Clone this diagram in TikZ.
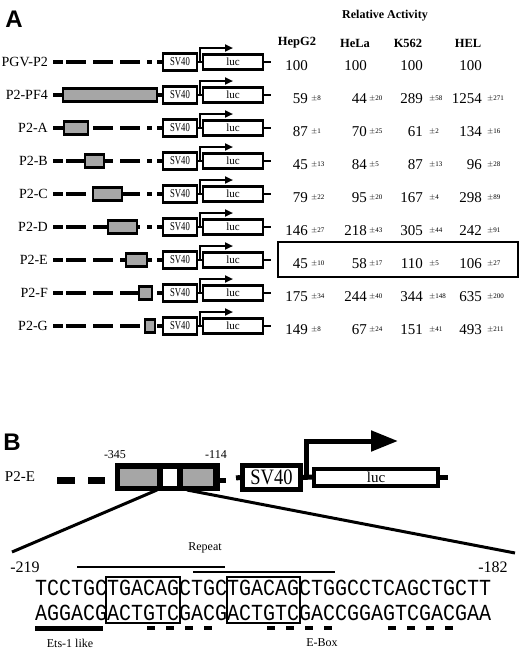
\documentclass[tikz,border=0pt]{standalone}
\usepackage{graphicx}
\usepackage{fontspec}
\setmainfont{Liberation Serif}
\newfontfamily\monofont{Liberation Mono}
\newfontfamily\sansfont{Liberation Sans}
\usetikzlibrary{arrows.meta}

\begin{document}
\begin{tikzpicture}[x=1pt, y=-1pt,
    every node/.style={inner sep=0pt},
    linea/.style={line width=3.5pt},
    tratt/.style={line width=3.5pt, dash pattern=on 20pt off 7pt, dash phase=24pt},
    ins/.style={draw, line width=2.5pt, fill=black!35},
    scatola/.style={draw, line width=2.5pt, fill=white},
    freccia/.style={line width=2pt, -{Triangle[length=8pt,width=7pt]}},
    nome/.style={font=\fontsize{14}{14}\selectfont, anchor=east},
    testa/.style={font=\bfseries\fontsize{12.5}{12.5}\selectfont},
    num/.style={font=\fontsize{15}{15}\selectfont, anchor=base east},
    err/.style={font=\fontsize{7}{7}\selectfont, anchor=base west},
    spesso/.style={line width=5pt},
    sottile/.style={line width=1.2pt},
    lettera/.style={font=\sansfont\bfseries\fontsize{24}{24}\selectfont},
    piccolo/.style={font=\fontsize{12}{12}\selectfont},
    seq/.style={font=\monofont\fontsize{20}{20}\selectfont, anchor=base west}]
  \useasboundingbox (0,0) rectangle (520,654);

  % Parte A
  \node[lettera] (A) at (14,19) {A};
  \node[font=\bfseries\fontsize{12}{12}\selectfont] (RA) at (385,16) {Relative Activity};
  \node[testa] (H1) at (297,43) {HepG2};
  \node[testa] (H2) at (355,43) {HeLa};
  \node[testa] (H3) at (408,43) {K562};
  \node[testa] (H4) at (468,43) {HEL};

  % Costrutti
  \foreach \nome/\y/\xa/\xb [count=\i] in {PGV-P2/62/0/0, P2-PF4/95/63/157,
      P2-A/128/64/88, P2-B/161/85/104, P2-C/194/93/122, P2-D/227/108/137,
      P2-E/260/126/147, P2-F/293/139/152, P2-G/326/145/155}{
    \node[nome] (lab\i) at (48,\y) {\nome};
    \draw[tratt] (63,\y) -- (152,\y);
    \draw[linea] (53,\y) -- (63,\y);
    \draw[linea] (157,\y) -- (163,\y);
    \ifnum\xa>0 \draw[ins] (\xa,\y-6.5) rectangle (\xb,\y+6.5); \fi
    \node[scatola, minimum width=34pt, minimum height=17pt,
      font=\fontsize{12}{12}\selectfont] (sv\i) at (180,\y) {\scalebox{0.72}[1]{SV40}};
    \node[scatola, minimum width=60pt, minimum height=15pt,
      font=\fontsize{11}{11}\selectfont] (luc\i) at (233,\y) {luc};
    \draw[line width=2.5pt] (sv\i.east) -- (luc\i.west);
    \draw[line width=2.5pt] (luc\i.east) -- ++(7,0);
    \coordinate (base\i) at (200,\y);
    \coordinate (punta\i) at (233,\y-14);
    \draw[freccia] (base\i) |- (punta\i);
  }

  % Valori
  \foreach \y/\na/\ea/\nb/\eb/\nc/\ec/\nd/\ed [count=\i] in {
      62/100/{}/100/{}/100/{}/100/{},
      95/59/8/44/20/289/58/1254/271,
      128/87/1/70/25/61/2/134/16,
      161/45/13/84/5/87/13/96/28,
      194/79/22/95/20/167/4/298/89,
      227/146/27/218/43/305/44/242/91,
      260/45/10/58/17/110/5/106/27,
      293/175/34/244/40/344/148/635/200,
      326/149/8/67/24/151/41/493/211}{
    \node[num] (na\i) at (308,\y+8) {\na};
    \node[num] (nb\i) at (367,\y+8) {\nb};
    \node[num] (nc\i) at (423,\y+8) {\nc};
    \node[num] (nd\i) at (482,\y+8) {\nd};
    \ifnum\i>1
      \node[err] (ea\i) at (311,\y+5) {$\pm$\ea};
      \node[err] (eb\i) at (369,\y+5) {$\pm$\eb};
      \node[err] (ec\i) at (429,\y+5) {$\pm$\ec};
      \node[err] (ed\i) at (487,\y+5) {$\pm$\ed};
    \fi
  }
  \draw[sottile] (278,242) rectangle (518,277);

  % Parte B
  \node[lettera] (B) at (12,442) {B};
  \node[font=\fontsize{15}{15}\selectfont] (labE) at (20,477) {P2-E};
  \draw[line width=7pt] (57,480) -- (75,480) (88,480) -- (105,480);
  \fill (115,463) rectangle (220,491);
  \fill[black!35] (120,469) rectangle (157,486);
  \fill[white] (163,469) rectangle (177,486);
  \fill[black!35] (183,469) rectangle (213,486);
  \node[piccolo] (p345) at (115,455) {-345};
  \node[piccolo] (p114) at (216,455) {-114};
  \draw[spesso] (220,480) -- (226,480);
  \node[draw, spesso, minimum width=58pt, minimum height=24pt,
    font=\fontsize{22}{22}\selectfont] (svB) at (271.5,477.5) {\scalebox{0.84}[1]{SV40}};
  \node[draw, line width=4pt, minimum width=124pt, minimum height=17pt,
    font=\fontsize{15}{15}\selectfont] (lucB) at (376,477) {luc};
  \draw[spesso] (236,478) -- (svB.west);
  \draw[spesso] (svB.east) -- (lucB.west);
  \draw[spesso] (lucB.east) -- ++(8,0);
  \coordinate (baseB) at (306,478);
  \coordinate (puntaB) at (398,441);
  \draw[spesso, -{Triangle[length=27pt,width=20pt]}] (baseB) |- (puntaB);

  % Ingrandimento
  \coordinate (zs) at (157,490);
  \coordinate (zd) at (187,490);
  \coordinate (sx) at (12,552);
  \coordinate (dx) at (515,553);
  \draw[line width=3pt] (zs) -- (sx);
  \draw[line width=3pt] (zd) -- (dx);

  % Sequenza
  \node[piccolo] (rep) at (205,548) {Repeat};
  \node[font=\fontsize{16}{16}\selectfont] (s219) at (25,567) {-219};
  \node[font=\fontsize{16}{16}\selectfont] (s182) at (493,567) {-182};
  \draw[sottile] (77,567) -- (225,567);
  \draw[sottile] (193,572) -- (335,572);
  \node[seq] (seq1) at (35,595) {\scalebox{1}[1.15]{TCCTGCTGACAGCTGCTGACAGCTGGCCTCAGCTGCTT}};
  \node[seq] (seq2) at (35,620) {\scalebox{1}[1.15]{AGGACGACTGTCGACGACTGTCGACCGGAGTCGACGAA}};
  \draw[sottile] (106,577) rectangle (180,623);
  \draw[sottile] (227,577) rectangle (300,623);
  \draw[spesso] (35,628) -- (103,628);
  \draw[line width=4pt, dash pattern=on 8pt off 11pt] (147,628) -- (212,628);
  \draw[line width=4pt, dash pattern=on 8pt off 11pt] (267,628) -- (332,628);
  \draw[line width=4pt, dash pattern=on 8pt off 11pt] (388,628) -- (453,628);
  \node[piccolo] (ets) at (70,643) {Ets-1 like};
  \node[piccolo] (ebox) at (322,643) {E-Box};
\end{tikzpicture}
\end{document}
